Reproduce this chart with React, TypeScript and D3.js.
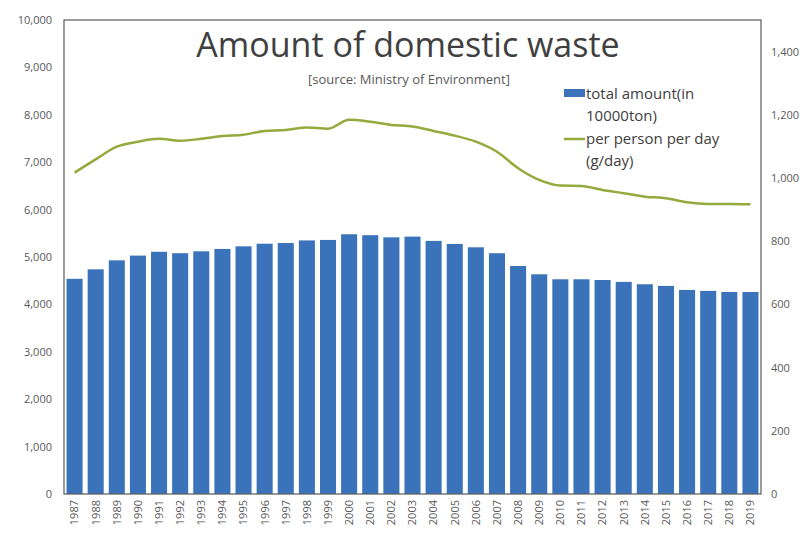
import { useEffect, useRef } from "react";
import * as d3 from "d3";

const years = [
  "1987", "1988", "1989", "1990", "1991", "1992", "1993", "1994", "1995", "1996", "1997",
  "1998", "1999", "2000", "2001", "2002", "2003", "2004", "2005", "2006", "2007", "2008",
  "2009", "2010", "2011", "2012", "2013", "2014", "2015", "2016", "2017", "2018", "2019",
];

// total amount (10000 ton)
const totalAmount = [
  4540, 4740, 4930, 5030, 5110, 5080, 5120, 5170, 5225, 5280, 5295,
  5350, 5360, 5480, 5460, 5415, 5430, 5340, 5275, 5205, 5080, 4810,
  4635, 4530, 4530, 4515, 4475, 4425, 4390, 4305, 4285, 4262, 4262,
];

// per person per day (g/day)
const perPerson = [
  1017, 1059, 1099, 1115, 1124, 1118, 1124, 1133, 1137, 1149, 1152,
  1160, 1156, 1184, 1178, 1168, 1163, 1149, 1134, 1115, 1083, 1031,
  994, 976, 975, 962, 952, 941, 936, 923, 918, 918, 917,
];

const leftTicks = [0, 1000, 2000, 3000, 4000, 5000, 6000, 7000, 8000, 9000, 10000];
const rightTicks = [0, 200, 400, 600, 800, 1000, 1200, 1400];

const W = 811;
const H = 538;

const App = () => {
  const svgRef = useRef<SVGSVGElement | null>(null);

  useEffect(() => {
    if (!svgRef.current) return;
    const svg = d3.select(svgRef.current);
    svg.selectAll("*").remove();

    const font = "'Open Sans', 'Noto Sans', sans-serif";
    const margin = { top: 20, right: 50, bottom: 44, left: 64 };
    const width = W - margin.left - margin.right;
    const height = H - margin.top - margin.bottom;

    svg.append("rect").attr("width", W).attr("height", H).attr("fill", "#fff");

    const g = svg.append("g").attr("transform", `translate(${margin.left},${margin.top})`);

    const x = d3.scaleBand().domain(years).range([0, width]).paddingInner(0.24).paddingOuter(0.12);
    const yL = d3.scaleLinear().domain([0, 10000]).range([height, 0]);
    const yR = d3.scaleLinear().domain([0, 1500]).range([height, 0]);

    // 막대
    g.selectAll("rect.bar")
      .data(totalAmount)
      .enter()
      .append("rect")
      .attr("class", "bar")
      .attr("x", (_, i) => x(years[i]) || 0)
      .attr("y", (d) => yL(d))
      .attr("width", x.bandwidth())
      .attr("height", (d) => height - yL(d))
      .attr("fill", "#3b73ba");

    // 선
    const line = d3
      .line<number>()
      .x((_, i) => (x(years[i]) || 0) + x.bandwidth() / 2)
      .y((d) => yR(d))
      .curve(d3.curveMonotoneX);

    g.append("path")
      .datum(perPerson)
      .attr("fill", "none")
      .attr("stroke", "#93aa3c")
      .attr("stroke-width", 2.5)
      .attr("d", line);

    // 프레임
    g.append("rect")
      .attr("width", width)
      .attr("height", height)
      .attr("fill", "none")
      .attr("stroke", "#5a5a5a")
      .attr("stroke-width", 1.2);

    // 왼쪽 축
    const left = g
      .append("g")
      .call(d3.axisLeft(yL).tickValues(leftTicks).tickFormat(d3.format(",")).tickSize(0).tickPadding(12));
    left.select(".domain").remove();
    left.selectAll("text").style("font-family", font).style("font-size", "11px").attr("fill", "#595959");

    // 오른쪽 축
    const right = g
      .append("g")
      .attr("transform", `translate(${width},0)`)
      .call(d3.axisRight(yR).tickValues(rightTicks).tickFormat(d3.format(",")).tickSize(0).tickPadding(10));
    right.select(".domain").remove();
    right.selectAll("text").style("font-family", font).style("font-size", "11px").attr("fill", "#595959");

    // X축
    const bottom = g
      .append("g")
      .attr("transform", `translate(0,${height})`)
      .call(d3.axisBottom(x).tickSize(0).tickPadding(6));
    bottom.select(".domain").remove();
    bottom
      .selectAll("text")
      .style("font-family", font)
      .style("font-size", "11px")
      .attr("fill", "#595959")
      .attr("transform", "rotate(-90)")
      .attr("x", -6)
      .attr("y", 0)
      .attr("dy", "0.35em")
      .style("text-anchor", "end");

    // 제목
    svg
      .append("text")
      .attr("x", 408)
      .attr("y", 57)
      .attr("text-anchor", "middle")
      .style("font-family", font)
      .style("font-size", "34px")
      .attr("fill", "#404040")
      .text("Amount of domestic waste");

    svg
      .append("text")
      .attr("x", 409)
      .attr("y", 84)
      .attr("text-anchor", "middle")
      .style("font-family", font)
      .style("font-size", "13px")
      .attr("fill", "#595959")
      .text("[source: Ministry of Environment]");

    // 범례
    const lg = svg.append("g").style("font-family", font).style("font-size", "15px").attr("fill", "#404040");
    lg.append("rect").attr("x", 564).attr("y", 89).attr("width", 21).attr("height", 8).attr("fill", "#3b73ba");
    lg.append("text").attr("x", 586).attr("y", 99).text("total amount(in");
    lg.append("text").attr("x", 586).attr("y", 121).text("10000ton)");
    lg.append("line").attr("x1", 564).attr("x2", 585).attr("y1", 139).attr("y2", 139).attr("stroke", "#93aa3c").attr("stroke-width", 2.5);
    lg.append("text").attr("x", 586).attr("y", 144).text("per person per day");
    lg.append("text").attr("x", 586).attr("y", 166).text("(g/day)");
  }, []);

  return (
    <svg
      ref={svgRef}
      width={W}
      height={H}
      style={{ position: "absolute", left: 0, top: 0, display: "block" }}
    ></svg>
  );
};

export default App;
